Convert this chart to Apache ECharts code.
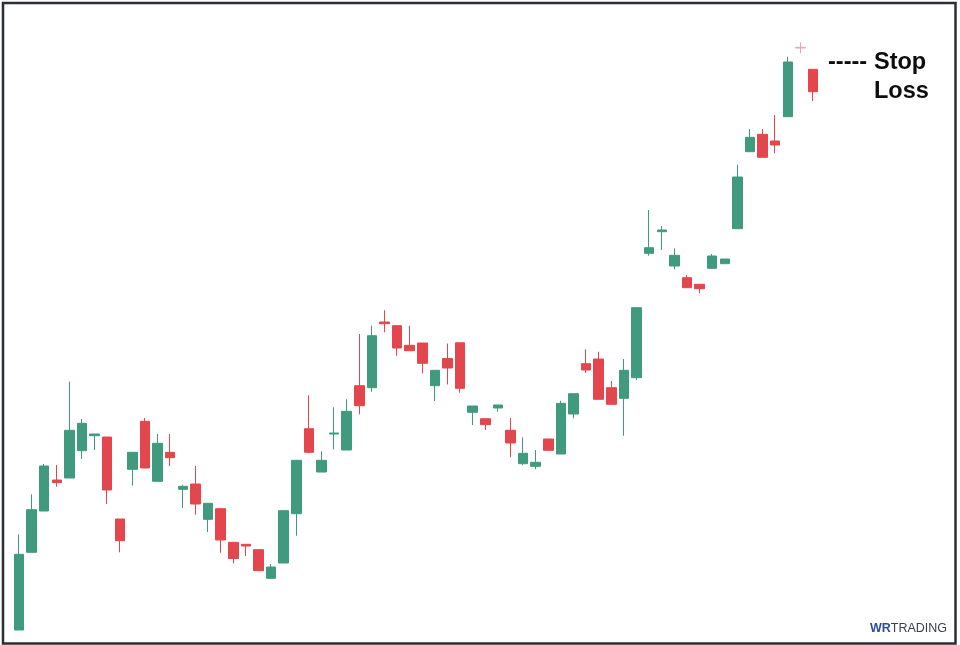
<!DOCTYPE html>
<html>
<head>
<meta charset="utf-8">
<script src="https://cdn.jsdelivr.net/npm/echarts@6/dist/echarts.min.js"></script>
<style>html,body{margin:0;padding:0;background:#fff}#c{width:960px;height:645px}</style>
</head>
<body>
<div id="c"></div>
<script>
const categories = Array.from({length: 64}, (_, i) => 'D' + (i + 1));
const opens  = [15,92.7,134,165,167,194.3,209.3,208,126,175.7,223.7,163.7,192.7,155.7,161,125.7,136.3,102.7,100.7,95.3,66.7,82,131.3,216.3,173,211,195,259.3,257.3,323,319.3,299.7,302,259.3,286.5,302.2,232.7,226.3,237,214.7,181.3,178.7,206,191,231,281.3,286,257.3,246.7,267.3,391.7,413.3,379,367.3,360.7,376.7,381.3,416.3,493.3,510.7,504,528.3,597.6,575.7];
const closes = [90.7,135.3,179,162.3,214.7,221.7,211,155,104.3,192.7,177,201.7,187.3,158.7,141,141.7,105,86.5,99,74.3,78,134.3,184.7,192.7,184.7,212,233.7,239.3,309.3,321.3,297,294.3,281.7,274.7,277,256.7,239,220.3,240,202,191.7,182.7,194.7,241.7,251.3,275,245.7,240.7,274.7,337.3,397.3,415,389.7,357.3,356.3,389,386,468,507.7,487.7,500,583,597,553.3];
const lows   = [15,92.7,134,158.3,167,186,195,141,92.7,159.3,177,163.7,179,137,130.3,113,92.3,81.7,89,74.3,66.7,82,109.3,191.7,173,195.7,195,230.7,253.3,312.7,289.3,294.3,271.7,244,260.5,252.3,220,215,233.3,187.7,179.7,175.7,194.7,191,226.7,272.3,245.7,240.7,209.3,265,389.3,395,375.7,357.3,351.7,376.7,381.3,416.3,493.3,487.7,491.7,528.3,591.7,544];
const highs  = [110.7,150.7,181,180,263.3,226,211,208,126,192.7,227,211,211,160.3,179,141.7,136.3,102.7,100.7,95.3,81,134.3,184.7,249.7,193.7,237.7,245.7,311,319.3,334.7,319.3,319.3,302,274.7,301.5,302.2,239,226.3,240,227,207.7,195,206,244.3,251.3,295.7,293.3,264,286,337.3,435,419,396.7,370,360.7,391,386,480.3,516,516,530,588.3,602.7,575.7];

const UP = '#3f9a7e', DOWN = '#e3474d', FAINT = '#f2a3aa';
const data = opens.map((o, i) => {
  const item = { value: [o, closes[i], lows[i], highs[i]] };
  if (i === 62) item.itemStyle = { color: FAINT, color0: FAINT, borderColor: FAINT, borderColor0: FAINT };
  return item;
});

const chart = echarts.init(document.getElementById('c'), null, {renderer: 'canvas'});
const FONT = 'bold 23.5px "Liberation Sans", Arial, sans-serif';
chart.setOption({
  animation: false,
  backgroundColor: '#ffffff',
  grid: { left: 12.7, right: 140.7, top: 0, bottom: 0 },
  xAxis: { type: 'category', data: categories, show: false, boundaryGap: true },
  yAxis: { type: 'value', min: 0, max: 645, show: false, splitLine: { show: false } },
  series: [{
    type: 'candlestick',
    data: data,
    barWidth: 10,
    itemStyle: { color: UP, color0: DOWN, borderColor: UP, borderColor0: DOWN, borderWidth: 1 }
  }],
  graphic: [
    { type: 'rect', shape: { x: 3, y: 3, width: 952.5, height: 640.5 }, style: { fill: 'none', stroke: '#2b2e36', lineWidth: 2.5 }, z: 100 },
    { type: 'text', left: 828, top: 51, style: { text: '-----', font: FONT, fill: '#0d0d0d' } },
    { type: 'text', left: 874, top: 51, style: { text: 'Stop', font: FONT, fill: '#0d0d0d' } },
    { type: 'text', left: 874, top: 80, style: { text: 'Loss', font: FONT, fill: '#0d0d0d' } },
    { type: 'text', left: 870, top: 622, style: {
        text: '{a|WR}{b|TRADING}',
        rich: {
          a: { font: 'bold 12.5px "Liberation Sans", Arial, sans-serif', fill: '#2b4f9e' },
          b: { font: '12.5px "Liberation Sans", Arial, sans-serif', fill: '#3a3f4a' }
        }
      } }
  ]
});
</script>
</body>
</html>
